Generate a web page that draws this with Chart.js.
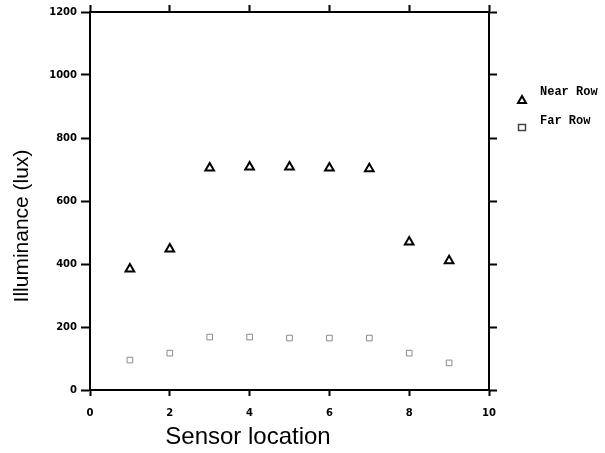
<!DOCTYPE html>
<html>
<head>
<meta charset="utf-8">
<title>Illuminance by sensor location</title>
<script src="https://cdn.jsdelivr.net/npm/chart.js@4.4.1/dist/chart.umd.min.js"></script>
<style>
  html, body { margin: 0; padding: 0; background: #fff; }
  #wrap { width: 605px; height: 453px; }
</style>
</head>
<body>
<div id="wrap"><canvas id="scatterChart" width="605" height="453"></canvas></div>
<script>
// values
const sensorLocations = [1, 2, 3, 4, 5, 6, 7, 8, 9];
const nearRow = [384, 448, 705, 708, 708, 705, 702, 470, 410];
const farRow = [95, 117, 168, 168, 165, 165, 165, 117, 86];
const xTicks = [0, 2, 4, 6, 8, 10];
const yTicks = [0, 200, 400, 600, 800, 1000, 1200];

const seriesNames = ['Near Row', 'Far Row'];

function toPoints(values) {
  return sensorLocations.map((loc, i) => ({ x: loc, y: values[i] }));
}

const tickFont = { family: 'DejaVu Sans', size: 10, weight: 'bold' };

function axisGrid(len) {
  return {
    drawOnChartArea: false,
    drawTicks: true,
    tickLength: len,
    tickWidth: 2,
    tickColor: '#000',
    color: '#000'
  };
}

// axis titles sit a little off-centre in the original, so draw them by hand
const axisTitles = {
  id: 'axisTitles',
  afterDraw(chart) {
    const ctx = chart.ctx;
    ctx.save();
    ctx.fillStyle = '#000';
    ctx.textAlign = 'center';
    ctx.textBaseline = 'middle';
    ctx.font = '24px "Liberation Sans", Arial, sans-serif';
    ctx.fillText('Sensor location', 248, 437);
    ctx.translate(22, 226);
    ctx.rotate(-Math.PI / 2);
    ctx.font = '21px "Liberation Sans", Arial, sans-serif';
    ctx.fillText('Illuminance (lux)', 0, 0);
    ctx.restore();
  }
};

const sideLegend = {
  id: 'sideLegend',
  afterDraw(chart) {
    const ctx = chart.ctx;
    ctx.save();
    ctx.font = 'bold 12px "Liberation Mono", "Courier New", monospace';
    ctx.textBaseline = 'middle';
    ctx.textAlign = 'left';
    ctx.fillStyle = '#000';

    // Near Row: open triangle
    ctx.fillText(seriesNames[0], 540, 92);
    ctx.strokeStyle = '#000';
    ctx.lineWidth = 2;
    ctx.beginPath();
    ctx.moveTo(522, 96);
    ctx.lineTo(526, 103);
    ctx.lineTo(518, 103);
    ctx.closePath();
    ctx.stroke();

    // Far Row: open square
    ctx.fillText(seriesNames[1], 540, 121);
    ctx.strokeStyle = '#444';
    ctx.lineWidth = 1.5;
    ctx.strokeRect(518.5, 124.5, 7, 6);
    ctx.restore();
  }
};

const ctx = document.getElementById('scatterChart');

new Chart(ctx, {
  type: 'scatter',
  data: {
    datasets: [
      {
        label: seriesNames[0],
        data: toPoints(nearRow),
        pointStyle: 'triangle',
        radius: 5,
        borderWidth: 2,
        borderColor: '#000',
        backgroundColor: 'rgba(0,0,0,0)'
      },
      {
        label: seriesNames[1],
        data: toPoints(farRow),
        pointStyle: 'rect',
        radius: 4,
        borderWidth: 1,
        borderColor: '#8a8a8a',
        backgroundColor: 'rgba(0,0,0,0)'
      }
    ]
  },
  options: {
    responsive: false,
    animation: false,
    devicePixelRatio: 1,
    layout: { padding: 0 },
    plugins: {
      legend: { display: false },
      tooltip: { enabled: false }
    },
    scales: {
      x: {
        type: 'linear',
        position: 'bottom',
        min: 0,
        max: 10,
        afterBuildTicks: s => { s.ticks = xTicks.map(v => ({ value: v })); },
        afterFit: s => { s.height = 63; },
        ticks: { color: '#000', font: tickFont, padding: 11, maxRotation: 0, callback: v => String(v) },
        grid: axisGrid(6),
        border: { color: '#000', width: 2 }
      },
      x2: {
        type: 'linear',
        position: 'top',
        min: 0,
        max: 10,
        afterBuildTicks: s => { s.ticks = xTicks.map(v => ({ value: v })); },
        afterFit: s => { s.height = 12; },
        ticks: { display: false },
        grid: axisGrid(7),
        border: { color: '#000', width: 2 }
      },
      y: {
        type: 'linear',
        position: 'left',
        min: 0,
        max: 1200,
        afterBuildTicks: s => { s.ticks = yTicks.map(v => ({ value: v })); },
        afterFit: s => { s.width = 90; },
        ticks: { color: '#000', font: tickFont, padding: 4, callback: v => String(v) },
        grid: axisGrid(9),
        border: { color: '#000', width: 2 }
      },
      y2: {
        type: 'linear',
        position: 'right',
        min: 0,
        max: 1200,
        afterBuildTicks: s => { s.ticks = yTicks.map(v => ({ value: v })); },
        afterFit: s => { s.width = 116; },
        ticks: { display: false },
        grid: axisGrid(8),
        border: { color: '#000', width: 2 }
      }
    }
  },
  plugins: [axisTitles, sideLegend]
});
</script>
</body>
</html>
